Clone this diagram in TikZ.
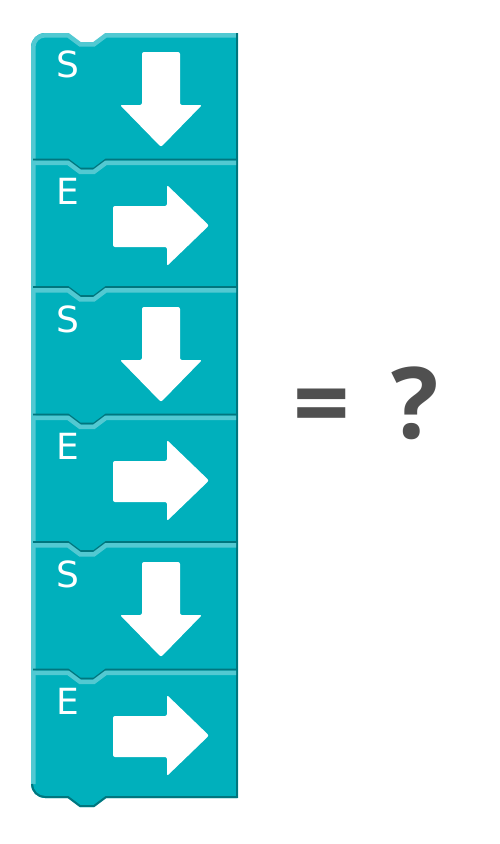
\documentclass[tikz,border=0pt]{standalone}
\usepackage{fontspec}
\setsansfont{DejaVu Sans}
\newfontfamily\resultfont{Open Sans}
\definecolor{block}{HTML}{00B0BC}
\definecolor{blocklight}{HTML}{52C9D2}
\definecolor{blockdark}{HTML}{00767E}
\definecolor{textgray}{HTML}{505050}
\tikzset{
  hilite/.style={color=blocklight, line width=4.5pt},
  shade/.style={color=blockdark, line width=2pt},
  arrowshape/.style={fill=white, rounded corners=2pt},
  letter/.style={text=white, font=\sffamily\fontsize{36}{36}\selectfont, anchor=base, inner sep=0pt},
  result/.style={text=textgray, font=\resultfont\bfseries\fontsize{99}{99}\selectfont, anchor=base, inner sep=0pt},
}
\begin{document}
\begin{tikzpicture}[x=1pt, y=-1pt]
    \useasboundingbox (0,0) rectangle (500,844);
    % the stack of blocks
    \fill [color=block] (31,47) arc (180:270:14) -- (68,33) -- (80,42) -- (94,42) -- (106,33) -- (238,33) -- (238,798) -- (106,798) -- (94,807) -- (80,807) -- (68,798) -- (45,798) arc (90:180:14) -- cycle;
    \draw [hilite] (33.25,784) -- (33.25,47) arc (180:270:11.75) -- (68,35.25) -- (80,44.25) -- (94,44.25) -- (106,35.25) -- (236,35.25);
    \draw [shade] (237,33) -- (237,798);
    \draw [shade] (32,784) arc (180:90:13) -- (68,797) -- (80,806) -- (94,806) -- (106,797) -- (237,797);
    \foreach \i in {1,...,5} {
        \begin{scope}[shift={(0,127.5*\i)}]
            \draw [shade] (33,32) -- (68,32) -- (80,41) -- (94,41) -- (106,32) -- (237,32);
            \draw [hilite] (33,35.25) -- (68,35.25) -- (80,44.25) -- (94,44.25) -- (106,35.25) -- (236,35.25);
        \end{scope}
    }
    % S blocks
    \foreach \i in {0,2,4} {
        \begin{scope}[shift={(0,127.5*\i)}]
            \fill [arrowshape] (142,52) -- (180,52) -- (180,105) -- (202,105) -- (161,147) -- (120,105) -- (142,105) -- cycle;
            \node [letter] (lab\i) at (67.5,77.5) {S};
        \end{scope}
    }
    % E blocks
    \foreach \i in {1,3,5} {
        \begin{scope}[shift={(0,127.5*\i)}]
            \fill [arrowshape] (113,78.5) -- (167,78.5) -- (167,57.5) -- (209,98) -- (167,138.5) -- (167,119.5) -- (113,119.5) -- cycle;
            \node [letter] (lab\i) at (67.5,77) {E};
        \end{scope}
    }
    \node [result] (eq) at (366,438) {=\hspace{16pt} ?};
\end{tikzpicture}
\end{document}
